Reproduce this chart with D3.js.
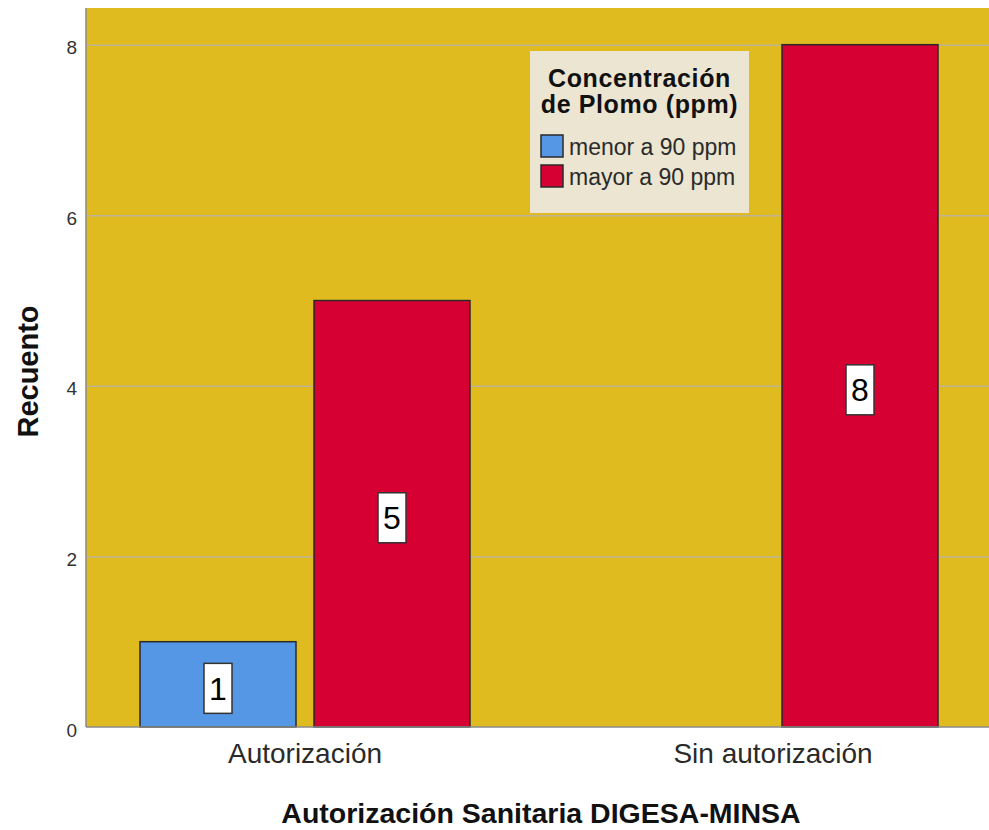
<!DOCTYPE html>
<html>
<head>
<meta charset="utf-8">
<script src="https://cdn.jsdelivr.net/npm/d3@7"></script>
<style>
  html, body { margin: 0; padding: 0; background: #ffffff; }
  svg { display: block; font-family: "Liberation Sans", Arial, sans-serif; }
</style>
</head>
<body>
<svg id="chart" width="989" height="830"></svg>
<script>
// Recuento por autorización sanitaria y concentración de plomo
const categories = ["Autorización", "Sin autorización"];
const series = ["menor a 90 ppm", "mayor a 90 ppm"];
const menorValues = [1, 0];
const mayorValues = [5, 8];
const yTicks = [0, 2, 4, 6, 8];
const seriesColors = ["#5596e5", "#d70033"];

const yTitle = "Recuento";
const xTitle = "Autorización Sanitaria DIGESA-MINSA";
const legendTitle = ["Concentración", "de Plomo (ppm)"];

const svg = d3.select("#chart");
const plot = { left: 86, right: 989, top: 8, bottom: 727 };

const y = d3.scaleLinear().domain([0, 8.43]).range([plot.bottom, plot.top]);
const x0 = d3.scaleBand().domain(categories).range([71, 1007]);
const half = x0.bandwidth() / 2;
const x1 = d3.scaleBand().domain(series)
  .range([half - 165, half + 165])
  .paddingInner(18 / 174);

// plot background
svg.append("rect")
  .attr("x", plot.left).attr("y", plot.top)
  .attr("width", plot.right - plot.left).attr("height", plot.bottom - plot.top)
  .attr("fill", "#e0bb1f");

// gridlines
svg.append("g")
  .attr("transform", `translate(${plot.left},0)`)
  .call(d3.axisLeft(y).tickValues(yTicks.filter(d => d > 0)).tickSize(-(plot.right - plot.left)).tickFormat(""))
  .call(g => g.select(".domain").remove())
  .call(g => g.selectAll("line").attr("stroke", "#bdb394").attr("stroke-width", 1.5));

// bars
const rows = categories.map((c, i) => ({ category: c, values: [menorValues[i], mayorValues[i]] }));
const bars = [];
rows.forEach(r => r.values.forEach((v, j) => {
  if (v > 0) bars.push({ category: r.category, series: series[j], idx: j, value: v });
}));

svg.append("g").selectAll("rect").data(bars).join("rect")
  .attr("x", d => x0(d.category) + x1(d.series))
  .attr("y", d => y(d.value))
  .attr("width", x1.bandwidth())
  .attr("height", d => y(0) - y(d.value))
  .attr("fill", d => seriesColors[d.idx])
  .attr("stroke", "#2a2a2a")
  .attr("stroke-width", 1.5);

// value labels
const lab = svg.append("g").selectAll("g").data(bars).join("g")
  .attr("transform", d => {
    const cx = x0(d.category) + x1(d.series) + x1.bandwidth() / 2;
    const cy = (y(d.value) + y(0)) / 2 + 4;
    return `translate(${cx},${cy})`;
  });
lab.append("rect")
  .attr("x", -14).attr("y", -25).attr("width", 28).attr("height", 50)
  .attr("fill", "#ffffff").attr("stroke", "#333333").attr("stroke-width", 1.5);
lab.append("text")
  .attr("text-anchor", "middle").attr("dy", "0.36em")
  .attr("font-size", 32).attr("fill", "#000")
  .text(d => d.value);

// axis lines
svg.append("line")
  .attr("x1", plot.left).attr("x2", plot.left)
  .attr("y1", plot.top).attr("y2", plot.bottom)
  .attr("stroke", "#8a8a8a").attr("stroke-width", 1.5);
svg.append("line")
  .attr("x1", plot.left).attr("x2", plot.right)
  .attr("y1", plot.bottom).attr("y2", plot.bottom)
  .attr("stroke", "#8a8a8a").attr("stroke-width", 1.5);

// y tick labels
svg.append("g")
  .attr("transform", `translate(${plot.left},3)`)
  .call(d3.axisLeft(y).tickValues(yTicks).tickSize(0).tickPadding(9).tickFormat(d3.format("d")))
  .call(g => g.select(".domain").remove())
  .call(g => g.selectAll("text").attr("font-size", 19).attr("fill", "#333").attr("font-family", "Liberation Sans, Arial, sans-serif"));

// x category labels
svg.append("g")
  .attr("transform", `translate(0,${plot.bottom})`)
  .call(d3.axisBottom(x0).tickSize(0).tickPadding(16))
  .call(g => g.select(".domain").remove())
  .call(g => g.selectAll("text").attr("font-size", 28).attr("fill", "#2a2a2a").attr("font-family", "Liberation Sans, Arial, sans-serif"));

// axis titles
svg.append("text")
  .attr("transform", `translate(38,${(plot.top + plot.bottom) / 2 + 4}) rotate(-90)`)
  .attr("text-anchor", "middle")
  .attr("font-size", 29).attr("font-weight", "bold").attr("fill", "#111")
  .text(yTitle);
svg.append("text")
  .attr("x", 541).attr("y", 823)
  .attr("text-anchor", "middle")
  .attr("font-size", 28.5).attr("font-weight", "bold").attr("fill", "#111")
  .text(xTitle);

// legend
const lg = svg.append("g").attr("transform", "translate(530,51)");
lg.append("rect").attr("width", 219).attr("height", 162).attr("fill", "#ece5d1");
lg.selectAll("text.title").data(legendTitle).join("text")
  .attr("class", "title")
  .attr("x", 109.5).attr("y", (d, i) => 36 + i * 26)
  .attr("text-anchor", "middle")
  .attr("font-size", 25).attr("font-weight", "bold").attr("fill", "#111")
  .attr("letter-spacing", 0.6)
  .text(d => d);
const items = lg.selectAll("g.item").data(series).join("g")
  .attr("class", "item")
  .attr("transform", (d, i) => `translate(11,${84 + i * 30})`);
items.append("rect")
  .attr("width", 22).attr("height", 22)
  .attr("fill", (d, i) => seriesColors[i])
  .attr("stroke", "#2a2a2a").attr("stroke-width", 1.5);
items.append("text")
  .attr("x", 28).attr("y", 20)
  .attr("font-size", 23).attr("fill", "#2a2a2a")
  .text(d => d);
</script>
</body>
</html>
